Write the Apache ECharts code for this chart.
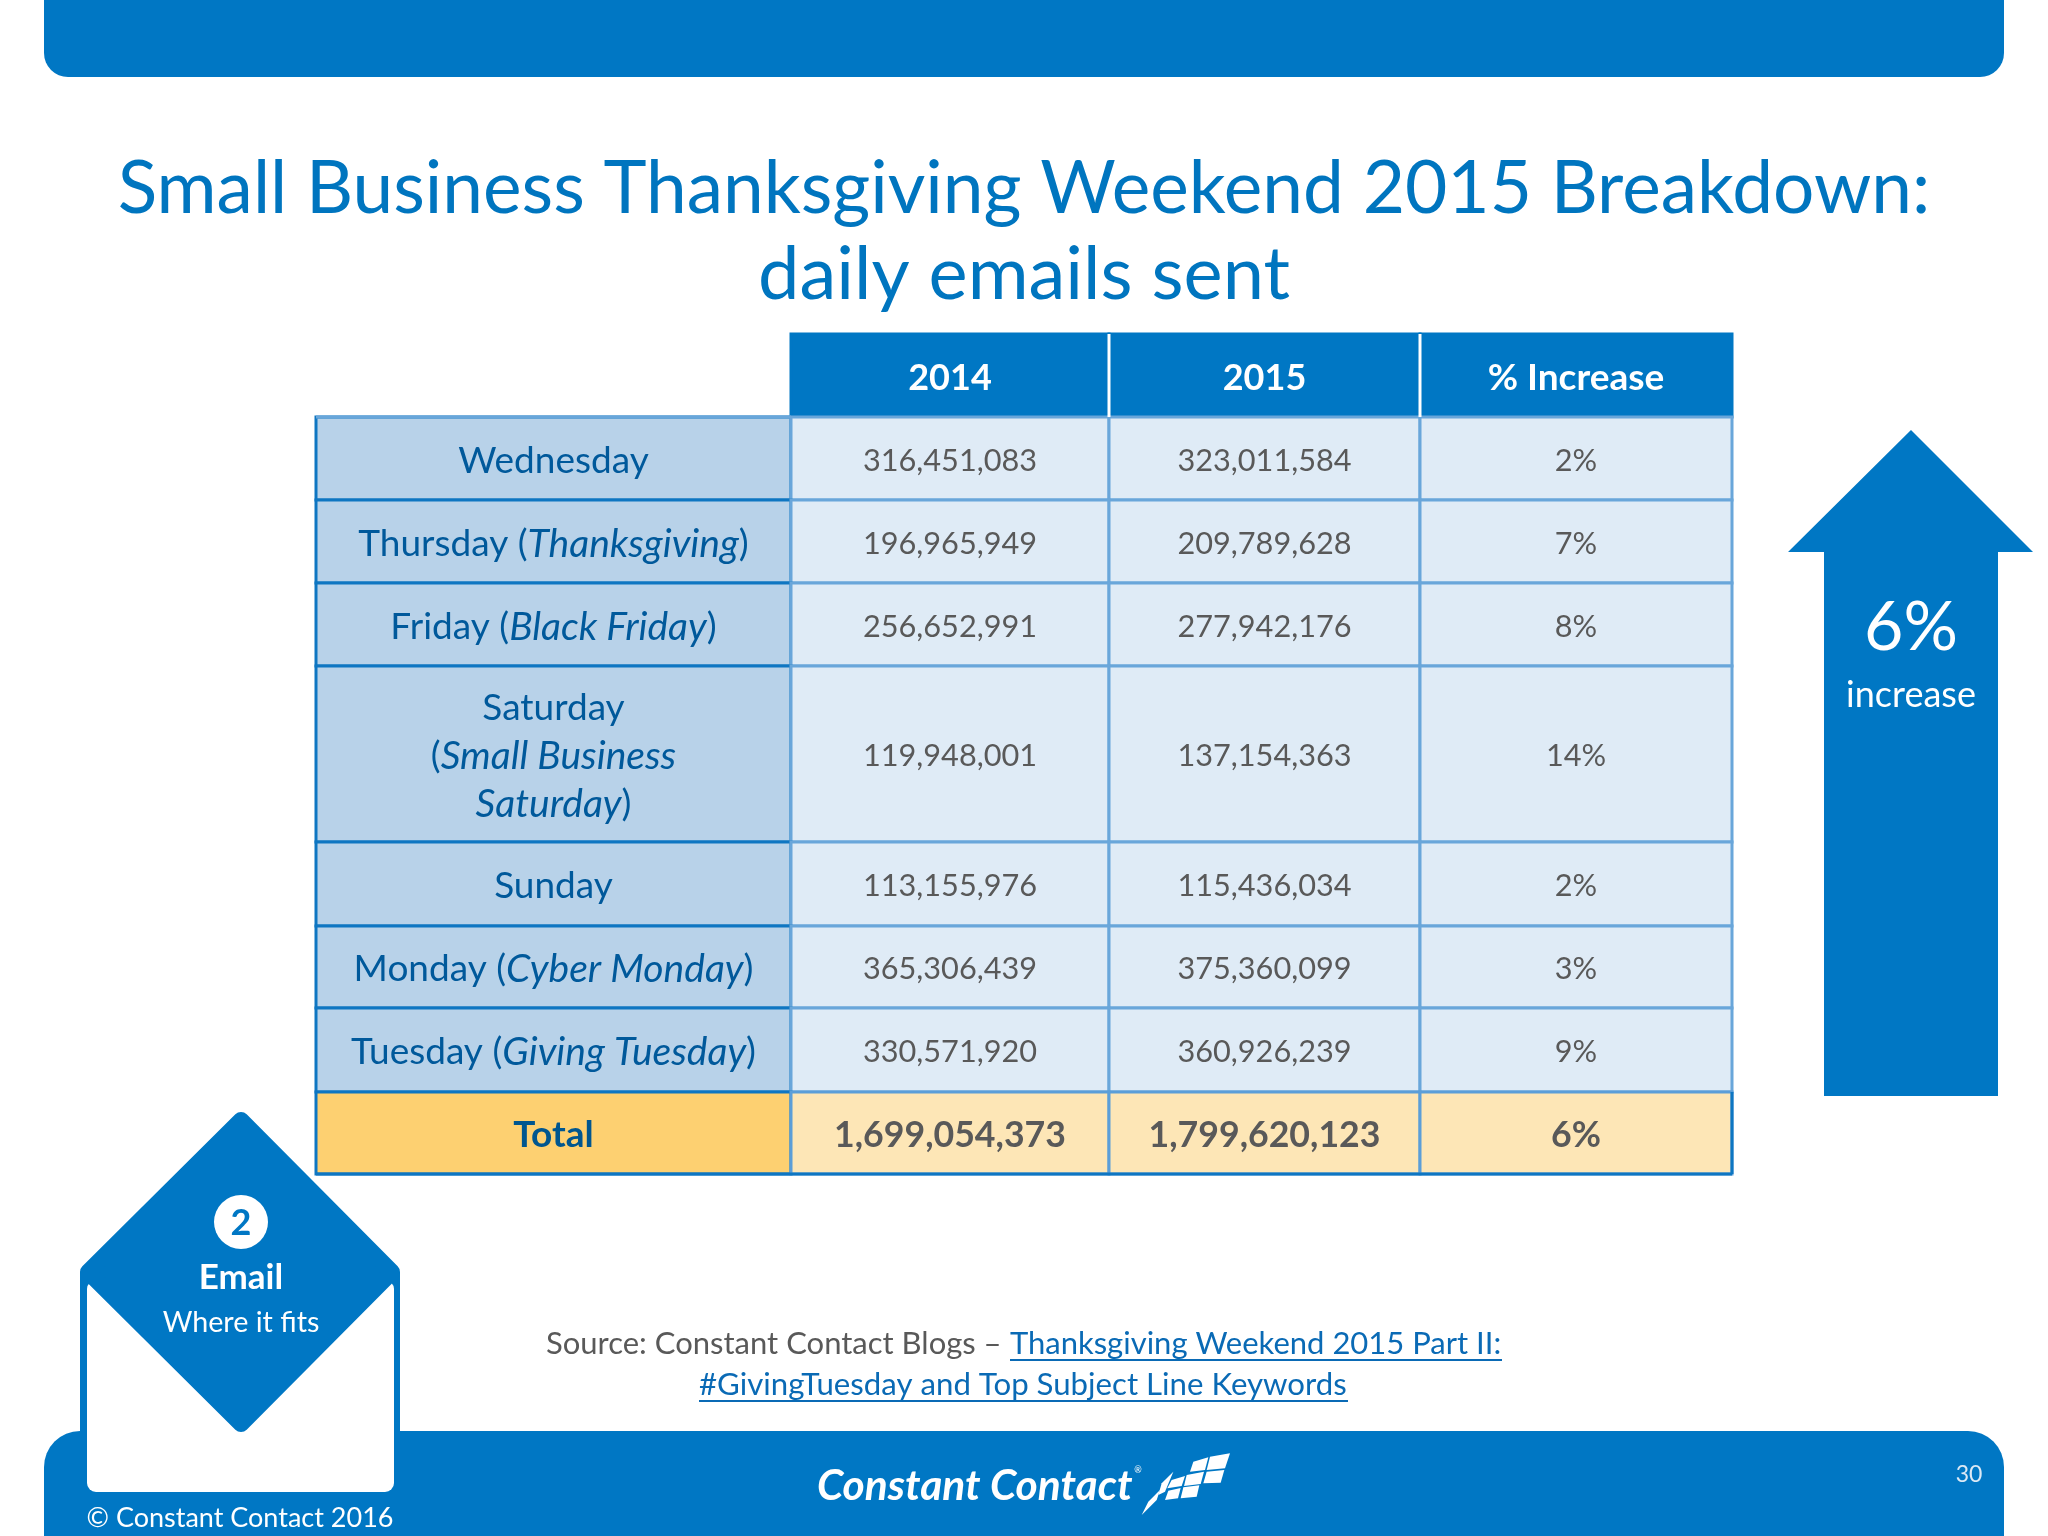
<!DOCTYPE html>
<html>
<head>
<meta charset="utf-8">
<title>Small Business Thanksgiving Weekend 2015 Breakdown</title>
<script src="https://cdn.jsdelivr.net/npm/echarts@6/dist/echarts.min.js"></script>
<style>
  html, body { margin: 0; padding: 0; background: #fff; }
  #main { width: 2048px; height: 1536px; }
</style>
</head>
<body>
<div id="main"></div>
<script>
// table content
const headers = ['', '2014', '2015', '% Increase'];
const days = [
    '{a|Wednesday}',
    '{a|Thursday (}{i|Thanksgiving}{a|)}',
    '{a|Friday (}{i|Black Friday}{a|)}',
    '{a|Saturday}\n{a|(}{i|Small Business}\n{i|Saturday}{a|)}',
    '{a|Sunday}',
    '{a|Monday (}{i|Cyber Monday}{a|)}',
    '{a|Tuesday (}{i|Giving Tuesday}{a|)}'
];
const emails2014 = [316451083, 196965949, 256652991, 119948001, 113155976, 365306439, 330571920];
const emails2015 = [323011584, 209789628, 277942176, 137154363, 115436034, 375360099, 360926239];
const increases = [2, 7, 8, 14, 2, 3, 9];
const totalLabel = 'Total';
const total2014 = 1699054373;
const total2015 = 1799620123;
const totalIncrease = 6;

// layout of the table, in pixels on the hidden axes
const colWidths = [475, 318, 311, 312];
const rowHeights = [83, 83, 83, 83, 176, 84, 82, 84, 82];

const BLUE = '#0077c4';
const LINE = '#69a6da';
const DARK_LINE = '#0e76c2';
const FONT = 'Lato';

function edges(sizes) {
    let out = [0];
    sizes.forEach(s => out.push(out[out.length - 1] + s));
    return out;
}
const colEdges = edges(colWidths);
const rowEdges = edges(rowHeights);

function fmt(n) {
    return n.toLocaleString('en-US');
}

// one row of text per table row, header first
const rows = [headers];
days.forEach((d, i) => {
    rows.push([d, fmt(emails2014[i]), fmt(emails2015[i]), increases[i] + '%']);
});
rows.push([totalLabel, fmt(total2014), fmt(total2015), totalIncrease + '%']);

const cells = [];
rows.forEach((r, ri) => r.forEach((t, ci) => cells.push([ci, ri])));

function cellStyle(c, r) {
    const last = rows.length - 1;
    if (r === 0) {
        return { fill: BLUE, stroke: BLUE, color: '#ffffff', weight: 'bold', size: c === 3 ? 37 : 36 };
    }
    if (r === last) {
        return {
            fill: c === 0 ? '#fdd071' : '#fde6b6', stroke: c === 0 ? DARK_LINE : '#5b9ed8',
            color: c === 0 ? '#00568f' : '#595959', weight: 'bold', size: c === 0 ? 37 : 35.7
        };
    }
    if (c === 0) {
        return { fill: '#b8d2e9', stroke: DARK_LINE, color: '#00599b', weight: 'normal', size: 37, italic: 39 };
    }
    return { fill: '#dfebf6', stroke: LINE, color: '#595959', weight: 'normal', size: 30.7 };
}

function renderCell(params, api) {
    const c = api.value(0);
    const r = api.value(1);
    const text = rows[r][c];
    if (r === 0 && c === 0) {
        return { type: 'group', children: [] };
    }
    const p0 = api.coord([colEdges[c], rowEdges[r]]);
    const p1 = api.coord([colEdges[c + 1], rowEdges[r + 1]]);
    const s = cellStyle(c, r);
    const parts = [
        {
            type: 'rect',
            shape: { x: p0[0], y: p0[1], width: p1[0] - p0[0], height: p1[1] - p0[1] },
            style: { fill: s.fill, stroke: s.stroke, lineWidth: 3 }
        },
        {
            type: 'text',
            z2: 5,
            style: {
                x: (p0[0] + p1[0]) / 2,
                y: (p0[1] + p1[1]) / 2 + 2.5,
                align: 'center',
                verticalAlign: 'middle',
                text: text,
                fill: s.color,
                fontFamily: FONT,
                fontSize: s.size,
                fontWeight: s.weight,
                rich: {
                    a: { fontFamily: FONT, fontSize: s.size, fill: s.color, lineHeight: 48 },
                    i: { fontFamily: FONT, fontSize: s.italic || s.size, fill: s.color, fontStyle: 'italic', lineHeight: 48 }
                }
            }
        }
    ];
    // white dividers in the header, lighter rule under the empty corner
    if (r === 0 && c < 3) {
        parts.push({
            type: 'line', z2: 4,
            shape: { x1: p1[0], y1: p0[1], x2: p1[0], y2: p1[1] },
            style: { stroke: '#ffffff', lineWidth: 3 }
        });
    }
    if (r === 1 && c === 0) {
        parts.push({
            type: 'line', z2: 4,
            shape: { x1: p0[0], y1: p0[1], x2: p1[0], y2: p0[1] },
            style: { stroke: LINE, lineWidth: 3 }
        });
    }
    // total row keeps a dark outer edge
    if (r === rows.length - 1) {
        parts.push({
            type: 'line', z2: 4,
            shape: { x1: p0[0], y1: p1[1], x2: p1[0], y2: p1[1] },
            style: { stroke: DARK_LINE, lineWidth: 3 }
        });
        if (c === 3) {
            parts.push({
                type: 'line', z2: 4,
                shape: { x1: p1[0], y1: p0[1], x2: p1[0], y2: p1[1] },
                style: { stroke: DARK_LINE, lineWidth: 3 }
            });
        }
    }
    return { type: 'group', children: parts };
}

function txt(text, x, y, size, color, extra) {
    return {
        type: 'text',
        z: 10,
        style: Object.assign({
            x: x, y: y, text: text, fill: color, fontFamily: FONT, fontSize: size,
            align: 'center', verticalAlign: 'middle'
        }, extra || {})
    };
}

function tile(pts) {
    // logo tiles, points
    return {
        type: 'polygon', z: 10,
        shape: { points: pts.map(p => [760 + p[0] / 3, 1400 + p[1] / 3]) },
        style: { fill: '#ffffff' }
    };
}

const decor = [
    // top and bottom bars
    { type: 'rect', z: 1, shape: { x: 44, y: -30, width: 1960, height: 107, r: 24 }, style: { fill: BLUE } },
    { type: 'rect', z: 1, shape: { x: 44, y: 1431, width: 1960, height: 140, r: 36 }, style: { fill: BLUE } },
    // arrow
    {
        type: 'polygon', z: 2,
        shape: { points: [[1911, 430], [2033, 552], [1998, 552], [1998, 1096], [1824, 1096], [1824, 552], [1788, 552]] },
        style: { fill: BLUE }
    },
    // envelope
    { type: 'rect', z: 2, shape: { x: 80, y: 1272, width: 320, height: 162 }, style: { fill: BLUE } },
    { type: 'rect', z: 3, shape: { x: 87, y: 1280, width: 307, height: 212, r: 9 }, style: { fill: '#ffffff' } },
    {
        type: 'polygon', z: 4,
        shape: { points: [[241, 1120], [392, 1272], [241, 1424], [88, 1272]] },
        style: { fill: BLUE, stroke: BLUE, lineWidth: 16, lineJoin: 'round' }
    },
    { type: 'circle', z: 5, shape: { cx: 241, cy: 1222, r: 27 }, style: { fill: '#ffffff' } },
    txt('2', 241, 1223, 36, BLUE, { fontWeight: 'bold' }),
    txt('Email', 241, 1278, 35, '#ffffff', { fontWeight: 'bold' }),
    txt('Where it fits', 241, 1323, 28.7, '#ffffff'),
    txt('© Constant Contact 2016', 240, 1518, 27, '#ffffff'),
    // title
    txt('Small Business Thanksgiving Weekend 2015 Breakdown:', 1024, 189, 73, '#0075bf'),
    txt('daily emails sent', 1024, 275, 74, '#0075bf'),
    // arrow text
    txt('6%', 1911, 628, 68, '#ffffff'),
    txt('increase', 1911, 695, 36, '#ffffff'),
    // source
    txt('Source: Constant Contact Blogs –', 546, 1344, 31, '#595959', { align: 'left' }),
    txt('Thanksgiving Weekend 2015 Part II:', 1010, 1344, 31, '#0a6ab5', { align: 'left' }),
    txt('#GivingTuesday and Top Subject Line Keywords', 699, 1385, 31.2, '#0a6ab5', { align: 'left' }),
    { type: 'line', z: 10, shape: { x1: 1010, y1: 1360, x2: 1502, y2: 1360 }, style: { stroke: '#0a6ab5', lineWidth: 2 } },
    { type: 'line', z: 10, shape: { x1: 699, y1: 1401, x2: 1348, y2: 1401 }, style: { stroke: '#0a6ab5', lineWidth: 2 } },
    // logo and page number
    txt('Constant Contact', 817, 1486, 42.5, '#ffffff', { align: 'left', fontWeight: 'bold', fontStyle: 'italic' }),
    txt('®', 1138, 1470, 9, '#ffffff'),
    tile([[1350, 170], [1410, 160], [1395, 205], [1340, 210]]),
    tile([[1300, 185], [1345, 172], [1335, 210], [1290, 215]]),
    tile([[1340, 215], [1393, 210], [1382, 248], [1330, 250]]),
    tile([[1280, 225], [1332, 215], [1322, 252], [1272, 258]]),
    tile([[1270, 262], [1318, 256], [1310, 290], [1262, 295]]),
    tile([[1235, 240], [1275, 228], [1265, 258], [1222, 265]]),
    tile([[1225, 272], [1262, 264], [1254, 295], [1215, 300]]),
    tile([[1205, 250], [1240, 215], [1215, 275], [1195, 285]]),
    tile([[1165, 305], [1200, 270], [1190, 300], [1145, 345]]),
    txt('30', 1969, 1475, 23, '#dbe9f5')
];

const chart = echarts.init(document.getElementById('main'));
chart.setOption({
    animation: false,
    backgroundColor: '#ffffff',
    grid: { left: 316, top: 334, width: colEdges[colEdges.length - 1], height: rowEdges[rowEdges.length - 1] },
    xAxis: { type: 'value', min: 0, max: colEdges[colEdges.length - 1], show: false },
    yAxis: { type: 'value', min: 0, max: rowEdges[rowEdges.length - 1], inverse: true, show: false },
    graphic: { elements: decor },
    series: [{
        type: 'custom',
        coordinateSystem: 'cartesian2d',
        renderItem: renderCell,
        clip: false,
        silent: true,
        encode: { x: 0, y: 1 },
        data: cells
    }]
});
</script>
</body>
</html>
